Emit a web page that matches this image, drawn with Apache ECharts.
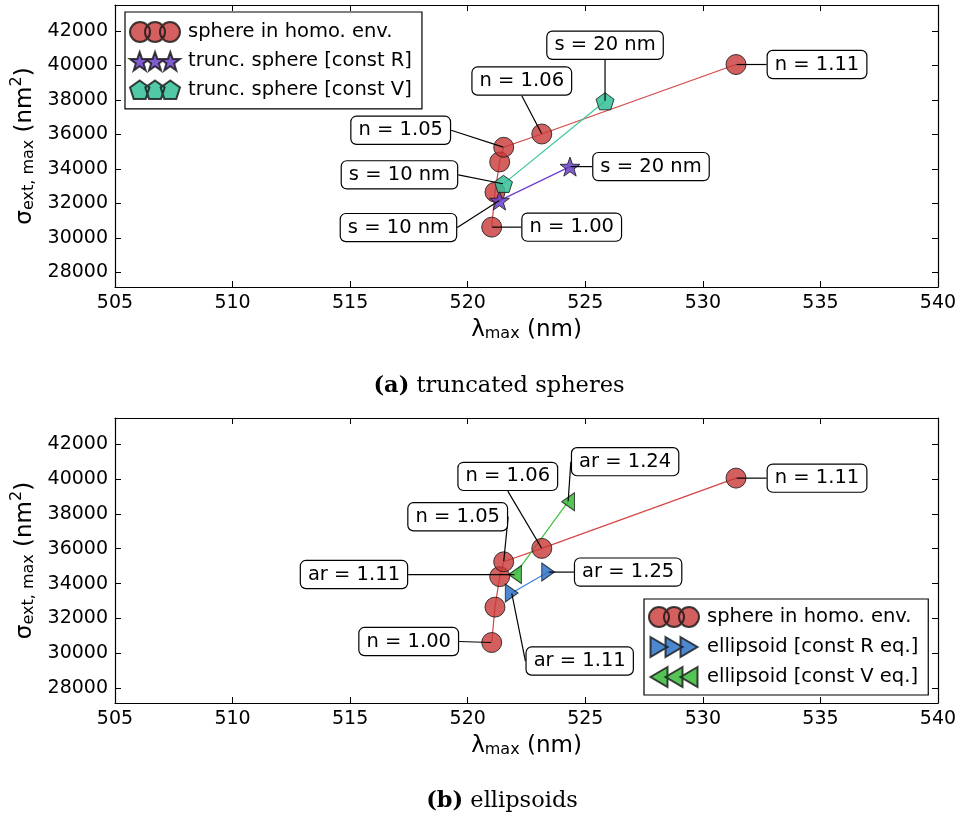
<!DOCTYPE html>
<html><head><meta charset="utf-8">
<script src="https://cdn.jsdelivr.net/npm/echarts@6/dist/echarts.min.js"></script>
<style>html,body{margin:0;padding:0;background:#fff}#c{width:960px;height:818px}</style>
</head><body><div id="c"></div>
<script>
// ---------------- data ----------------
const xTicks = [505, 510, 515, 520, 525, 530, 535, 540];
const yTicks = [28000, 30000, 32000, 34000, 36000, 38000, 40000, 42000];
const yMin = 27150, yMax = 43500;

const sphereLambda = [521.02, 521.16, 521.36, 521.53, 523.15, 531.41];
const sphereSigma  = [30620, 32650, 34400, 35250, 36020, 40050];
const sphereLabels = ['n = 1.00', '', '', 'n = 1.05', 'n = 1.06', 'n = 1.11'];

const truncRLambda = [521.35, 524.35];
const truncRSigma  = [32160, 34130];
const truncRLabels = ['s = 10 nm', 's = 20 nm'];

const truncVLambda = [521.52, 525.84];
const truncVSigma  = [33130, 37920];
const truncVLabels = ['s = 10 nm', 's = 20 nm'];

const ellRLambda = [521.87, 523.42];
const ellRSigma  = [33460, 34660];
const ellRLabels = ['ar = 1.11', 'ar = 1.25'];

const ellVLambda = [522.01, 524.27];
const ellVSigma  = [34520, 38700];
const ellVLabels = ['ar = 1.11', 'ar = 1.24'];

const names = {
  sphere: 'sphere in homo. env.',
  truncR: 'trunc. sphere [const R]',
  truncV: 'trunc. sphere [const V]',
  ellR: 'ellipsoid [const R eq.]',
  ellV: 'ellipsoid [const V eq.]'
};

// ---------------- layout (label offsets in px, not data) ----------------
const offTopSphere = [[80, 0], null, null, [-103, -17], [-20, -53], [81, 0]];
const offTopR = [[-101, 27], [81, 0]];
const offTopV = [[-104, -9], [0, -56]];
const offBotSphere = [[-83, -1], null, null, [-46, -45], [-34, -72], [81, 0]];
const offBotR = [[68, 68], [80, 0]];
const offBotV = [[-161, 0], [57, -40]];

// ---------------- shapes ----------------
const FONT = 'DejaVu Sans';
function starPath(cx, cy, R, r) {
  let s = '';
  for (let k = 0; k < 10; k++) {
    const a = -Math.PI / 2 + k * Math.PI / 5;
    const rad = k % 2 === 0 ? R : r;
    s += (k === 0 ? 'M' : 'L') + (cx + rad * Math.cos(a)).toFixed(2) + ',' + (cy + rad * Math.sin(a)).toFixed(2);
  }
  return s + 'Z';
}
function polyPath(cx, cy, R, n) {
  let s = '';
  for (let k = 0; k < n; k++) {
    const a = -Math.PI / 2 + k * 2 * Math.PI / n;
    s += (k === 0 ? 'M' : 'L') + (cx + R * Math.cos(a)).toFixed(2) + ',' + (cy + R * Math.sin(a)).toFixed(2);
  }
  return s + 'Z';
}
function circlePath(cx, cy, r) {
  return `M${cx - r},${cy}a${r},${r} 0 1,0 ${2 * r},0a${r},${r} 0 1,0 ${-2 * r},0Z`;
}
const starSym = 'path://' + starPath(10, 10, 10, 4);
const pentSym = 'path://' + polyPath(10, 10, 10, 5);
const triR = 'path://M0,0L17,10L0,20Z';
const triL = 'path://M17,0L0,10L17,20Z';
const iconCircles = 'path://' + circlePath(10, 10, 10) + circlePath(25, 10, 10) + circlePath(40, 10, 10);
const iconStars = 'path://' + starPath(10, 10, 10, 4) + starPath(25, 10, 10, 4) + starPath(40, 10, 10, 4);
const iconPents = 'path://' + polyPath(10, 10, 10, 5) + polyPath(25, 10, 10, 5) + polyPath(40, 10, 10, 5);
const iconTriR = 'path://M0,0L17,10L0,20ZM15,0L32,10L15,20ZM30,0L47,10L30,20Z';
const iconTriL = 'path://M17,0L0,10L17,20ZM32,0L15,10L32,20ZM47,0L30,10L47,20Z';

const styles = {
  sphere: { fill: 'rgba(200,55,55,0.8)', line: '#d64545', sym: 'circle', size: 20 },
  truncR: { fill: 'rgba(105,65,200,0.85)', line: '#6a3fd0', sym: starSym, size: 20 },
  truncV: { fill: 'rgba(50,190,150,0.85)', line: '#35c79d', sym: pentSym, size: 18 },
  ellR: { fill: 'rgba(45,115,200,0.85)', line: '#3a80d8', sym: triR, size: [15, 18] },
  ellV: { fill: 'rgba(55,185,55,0.85)', line: '#3cc23c', sym: triL, size: [15, 18] }
};

function pairs(xs, ys) { return xs.map((x, i) => [x, ys[i]]); }

function dataSeries(key, xs, ys, ax) {
  const st = styles[key];
  return {
    type: 'line', name: names[key], xAxisIndex: ax, yAxisIndex: ax,
    data: pairs(xs, ys), symbol: st.sym, symbolSize: st.size, symbolKeepAspect: true,
    showSymbol: true, showAllSymbol: true, z: 3,
    lineStyle: { color: st.line, width: 1.2 },
    itemStyle: { color: st.fill, borderColor: 'rgba(20,20,20,0.8)', borderWidth: 1 },
    emphasis: { disabled: true }, silent: true
  };
}

function annotSeries(ax, groups) {
  const data = [], offs = [];
  groups.forEach(g => {
    g.labels.forEach((t, i) => {
      if (!t) return;
      data.push({ value: [g.xs[i], g.ys[i]], name: t });
      offs.push(g.offs[i]);
    });
  });
  return {
    type: 'scatter', xAxisIndex: ax, yAxisIndex: ax, z: 20, silent: true,
    symbol: 'circle', symbolSize: 1, itemStyle: { color: 'rgba(0,0,0,0)', opacity: 1 },
    data: data,
    label: {
      show: true, position: 'inside', formatter: p => p.name,
      color: '#000', fontFamily: FONT, fontSize: 19.5, lineHeight: 22, opacity: 1,
      backgroundColor: '#fff', borderColor: '#000', borderWidth: 1.2, borderRadius: 5,
      padding: [3, 7, 2, 7]
    },
    labelLine: { show: true, lineStyle: { color: '#000', width: 1.2, opacity: 1 } },
    labelLayout: p => ({ dx: offs[p.dataIndex][0], dy: offs[p.dataIndex][1] }),
    emphasis: { disabled: true }
  };
}

const axisNameStyle = {
  color: '#000', fontFamily: FONT, fontSize: 23,
  rich: {
    a: { fontFamily: FONT, fontSize: 23, color: '#000', lineHeight: 28, verticalAlign: 'bottom' },
    s: { fontFamily: FONT, fontSize: 16, color: '#000', lineHeight: 12, verticalAlign: 'bottom' },
    p: { fontFamily: FONT, fontSize: 16, color: '#000', lineHeight: 12, verticalAlign: 'top' }
  }
};

function xAxisDef(gi, pos) {
  const bottom = pos === 'bottom';
  return {
    type: 'value', gridIndex: gi, position: pos,
    min: xTicks[0], max: xTicks[xTicks.length - 1], interval: xTicks[1] - xTicks[0],
    axisLine: { show: true, onZero: false, lineStyle: { color: '#000', width: 1.2 } },
    axisTick: { show: true, inside: true, length: 6, lineStyle: { color: '#000', width: 1 } },
    axisLabel: { show: bottom, color: '#000', fontFamily: FONT, fontSize: 19, margin: 7, formatter: v => String(v) },
    splitLine: { show: false },
    name: bottom ? '{a|λ}{s|max}{a| (nm)}' : '', nameLocation: 'middle', nameGap: 27,
    nameTextStyle: axisNameStyle
  };
}
function yAxisDef(gi, pos) {
  const left = pos === 'left';
  return {
    type: 'value', gridIndex: gi, position: pos, min: yMin, max: yMax,
    axisLine: { show: true, onZero: false, lineStyle: { color: '#000', width: 1.2 } },
    axisTick: { show: true, inside: true, length: 6, customValues: yTicks, lineStyle: { color: '#000', width: 1 } },
    axisLabel: { show: left, customValues: yTicks, color: '#000', fontFamily: FONT, fontSize: 19, margin: 7, formatter: v => String(v) },
    splitLine: { show: false },
    name: left ? '{a|σ}{s|ext, max}{a| (nm}{p|2}{a|)}' : '', nameLocation: 'middle', nameGap: 60,
    nameTextStyle: axisNameStyle
  };
}

function legendDef(left, top, items, pad) {
  return {
    left: left, top: top, orient: 'vertical', itemWidth: 50, itemHeight: 20, itemGap: 8,
    padding: [pad, 10, pad, 4], borderColor: '#000', borderWidth: 1.2, borderRadius: 0, backgroundColor: '#fff',
    textStyle: { fontFamily: FONT, fontSize: 19.5, color: '#000', padding: [0, 0, 0, 3] },
    selectedMode: false,
    data: items.map(it => ({ name: it[0], icon: it[1] }))
  };
}

const capStyle = {
  fontFamily: 'DejaVu Serif', fontSize: 22.5, fontWeight: 'normal', color: '#000',
  rich: { b: { fontFamily: 'DejaVu Serif', fontSize: 22.5, fontWeight: 'bold', color: '#000' } }
};

const chart = echarts.init(document.getElementById('c'), null, { renderer: 'canvas' });
chart.setOption({
  animation: false,
  backgroundColor: '#fff',
  title: [
    { text: '{b|(a)} truncated spheres', left: 494, top: 370, textAlign: 'center', textStyle: capStyle },
    { text: '{b|(b)} ellipsoids', left: 497, top: 785, textAlign: 'center', textStyle: capStyle }
  ],
  grid: [
    { left: 115, top: 5, width: 823, height: 282 },
    { left: 115, top: 418, width: 823, height: 285 }
  ],
  xAxis: [xAxisDef(0, 'bottom'), xAxisDef(0, 'top'), xAxisDef(1, 'bottom'), xAxisDef(1, 'top')],
  yAxis: [yAxisDef(0, 'left'), yAxisDef(0, 'right'), yAxisDef(1, 'left'), yAxisDef(1, 'right')],
  legend: [
    legendDef(125, 12, [[names.sphere, iconCircles], [names.truncR, iconStars], [names.truncV, iconPents]], 9),
    legendDef(644, 599, [[names.sphere, iconCircles], [names.ellR, iconTriR], [names.ellV, iconTriL]], 7)
  ],
  series: [
    dataSeries('sphere', sphereLambda, sphereSigma, 0),
    dataSeries('truncR', truncRLambda, truncRSigma, 0),
    dataSeries('truncV', truncVLambda, truncVSigma, 0),
    annotSeries(0, [
      { xs: sphereLambda, ys: sphereSigma, labels: sphereLabels, offs: offTopSphere },
      { xs: truncRLambda, ys: truncRSigma, labels: truncRLabels, offs: offTopR },
      { xs: truncVLambda, ys: truncVSigma, labels: truncVLabels, offs: offTopV }
    ]),
    dataSeries('sphere', sphereLambda, sphereSigma, 2),
    dataSeries('ellR', ellRLambda, ellRSigma, 2),
    dataSeries('ellV', ellVLambda, ellVSigma, 2),
    annotSeries(2, [
      { xs: sphereLambda, ys: sphereSigma, labels: sphereLabels, offs: offBotSphere },
      { xs: ellRLambda, ys: ellRSigma, labels: ellRLabels, offs: offBotR },
      { xs: ellVLambda, ys: ellVSigma, labels: ellVLabels, offs: offBotV }
    ])
  ]
});
</script>
</body></html>
